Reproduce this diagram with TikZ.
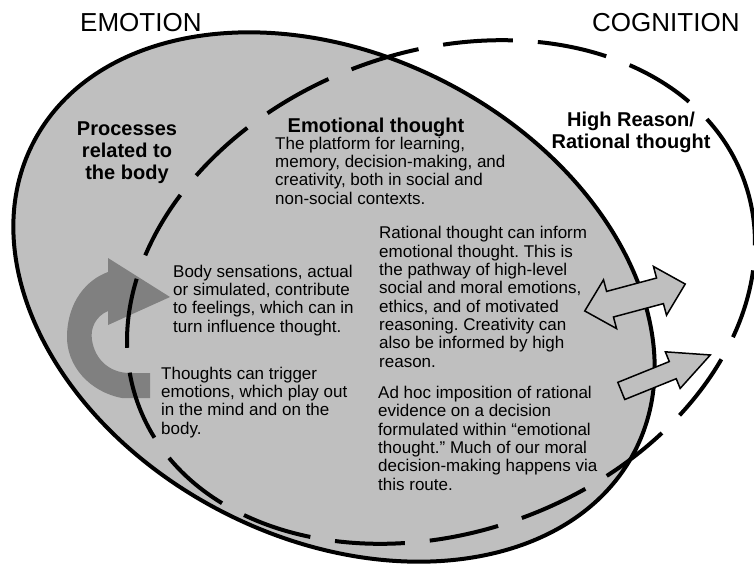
\documentclass[tikz,border=0pt]{standalone}
\usepackage{fontspec}
\setmainfont{Liberation Sans}
\usetikzlibrary{shapes.arrows}
\definecolor{emofill}{gray}{0.75}
\definecolor{loopgrey}{gray}{0.5}
\frenchspacing

\begin{document}
\begin{tikzpicture}
  [x=1pt,y=-1pt,
   body/.style={anchor=base west,align=left,inner sep=0pt,font=\fontsize{17}{18.3}\selectfont},
   head/.style={anchor=base,align=center,inner sep=0pt,font=\bfseries\fontsize{20}{22}\selectfont},
   title/.style={anchor=base west,inner sep=0pt,font=\fontsize{26}{28}\selectfont},
   blockarrow/.style={draw=black,line width=1.5pt,fill=emofill,inner sep=0pt,line join=miter}]

  \useasboundingbox (0,0) rectangle (754,566);

  \fill[emofill,shift={(334pt,-297pt)},rotate=-27] (0,0) ellipse [x radius=338pt,y radius=242pt];
  \fill[loopgrey] (150,373) -- (150,398) -- (122,398) .. controls (90,392) and (66,366) .. (67,335)
    .. controls (68,302) and (86,280) .. (108,272) -- (108,258) -- (170,297) -- (108,325) -- (108,311)
    .. controls (96,316) and (90,328) .. (92,340) .. controls (95,360) and (110,373) .. (130,373) -- cycle;
  \draw[line width=4pt,shift={(334pt,-297pt)},rotate=-27] (0,0) ellipse [x radius=338pt,y radius=242pt];
  \draw[line width=4pt,dash pattern=on 70pt off 25pt,shift={(441pt,-292pt)},rotate=20.6] (0,0) ellipse [x radius=323pt,y radius=240pt];

  \node[blockarrow,double arrow,text height=12.5pt,text depth=12.5pt,minimum height=104pt,double arrow head extend=12pt,double arrow tip angle=88,rotate=15] (both) at (635,297.5) {};
  \node[blockarrow,single arrow,text height=8.5pt,text depth=8.5pt,minimum height=96pt,single arrow head extend=10.5pt,single arrow tip angle=52,rotate=22] (up) at (657,376.5) {};

  \node[title] (emo) at (80,31) {EMOTION};
  \node[title] (cog) at (592,31) {COGNITION};

  \node[head] (bodyhead) at (127,179) {Processes\\related to\\the body};
  \node[head] (emohead) at (376,132) {Emotional thought};
  \node[head] (reasonhead) at (631,148) {High Reason/\\Rational thought};

  \node[body] (platform) at (275,204) {The platform for learning,\\memory, decision-making, and\\creativity, both in social and\\non-social contexts.};
  \node[body] (sense) at (173,332) {Body sensations, actual\\or simulated, contribute\\to feelings, which can in\\turn influence thought.};
  \node[body] (trigger) at (161,434) {Thoughts can trigger\\emotions, which play out\\in the mind and on the\\body.};
  \node[body] (inform) at (379,367) {Rational thought can inform\\emotional thought. This is\\the pathway of high-level\\social and moral emotions,\\ethics, and of motivated\\reasoning. Creativity can\\also be informed by high\\reason.};
  \node[body] (adhoc) at (378,490) {Ad hoc imposition of rational\\evidence on a decision\\formulated within “emotional\\thought.” Much of our moral\\decision-making happens via\\this route.};
\end{tikzpicture}
\end{document}
